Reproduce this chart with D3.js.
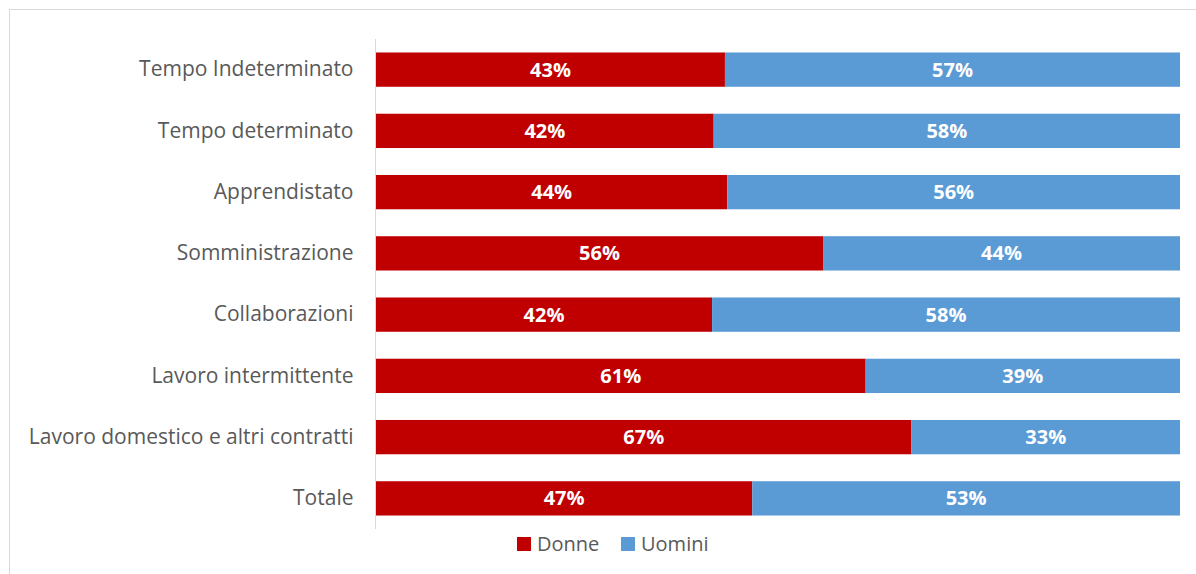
<!DOCTYPE html>
<html>
<head>
<meta charset="utf-8">
<script src="https://cdn.jsdelivr.net/npm/d3@7"></script>
<style>
  body { margin: 0; background: #fff; }
  svg { display: block; font-family: "Open Sans", sans-serif; }
</style>
</head>
<body>
<script>
const width = 1196;
const height = 574;

// categories top to bottom
const categories = ["Tempo Indeterminato", "Tempo determinato", "Apprendistato", "Somministrazione",
    "Collaborazioni", "Lavoro intermittente", "Lavoro domestico e altri contratti", "Totale"];
// share of women (%); men are the rest
const donne = [43.4, 42.0, 43.7, 55.6, 41.8, 60.9, 66.6, 46.8];
const uomini = donne.map(d => 100 - d);
const seriesNames = ["Donne", "Uomini"];
const colors = ["#C00000", "#5B9BD5"];

const svg = d3.select("body").append("svg")
    .attr("width", width)
    .attr("height", height);

// chart border
svg.append("rect")
    .attr("x", 9.5).attr("y", 9.5)
    .attr("width", width + 20).attr("height", height + 20)
    .style("fill", "none")
    .style("stroke", "#D9D9D9")
    .style("stroke-width", 1);

const x = d3.scaleLinear().domain([0, 100]).range([376, 1180]);
const y = d3.scaleBand().domain(categories).range([39, 529]).paddingInner(0.44).paddingOuter(0.22);

const rows = categories.map((c, i) => ({cat: c, vals: [donne[i], uomini[i]]}));
const stack = d3.stack().keys([0, 1]).value((d, k) => d.vals[k]);
const layers = stack(rows);

const g = svg.append("g");
layers.forEach((layer, k) => {
    g.append("g")
        .selectAll("rect")
        .data(layer)
        .enter()
        .append("rect")
        .attr("x", d => x(d[0]))
        .attr("y", d => y(d.data.cat))
        .attr("width", d => x(d[1]) - x(d[0]))
        .attr("height", y.bandwidth())
        .style("fill", colors[k]);

    g.append("g")
        .selectAll("text")
        .data(layer)
        .enter()
        .append("text")
        .attr("x", d => (x(d[0]) + x(d[1])) / 2)
        .attr("y", d => y(d.data.cat) + y.bandwidth() / 2)
        .attr("dy", "0.35em")
        .attr("text-anchor", "middle")
        .style("fill", "#fff")
        .style("font-weight", "bold")
        .style("font-size", "20px")
        .text(d => Math.round(d[1] - d[0]) + "%");
});

// category axis
const yAxis = svg.append("g")
    .attr("transform", "translate(375.5,0)")
    .call(d3.axisLeft(y).tickSize(0).tickPadding(22));
yAxis.select(".domain").attr("d", "M0,39V529").style("stroke", "#D9D9D9");
yAxis.selectAll("text")
    .style("font-size", "21px")
    .style("font-family", "Open Sans, sans-serif")
    .style("fill", "#595959");

// legend
const legendX = [517, 621];
const legend = svg.append("g");
seriesNames.forEach((name, k) => {
    legend.append("rect")
        .attr("x", legendX[k]).attr("y", 537)
        .attr("width", 14).attr("height", 14)
        .style("fill", colors[k]);
    legend.append("text")
        .attr("x", legendX[k] + 20).attr("y", 544)
        .attr("dy", "0.35em")
        .style("font-size", "20px")
        .style("fill", "#595959")
        .text(name);
});
</script>
</body>
</html>
